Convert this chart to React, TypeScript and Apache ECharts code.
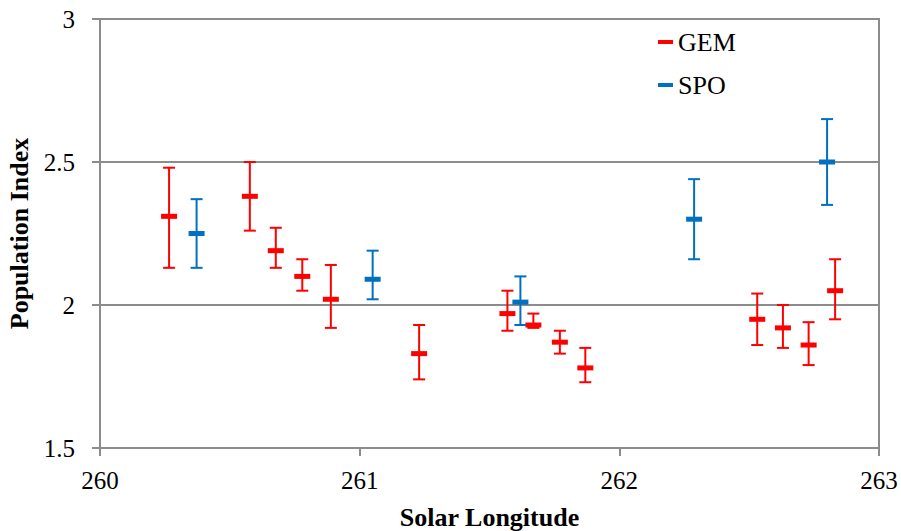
import React, { useEffect, useRef } from "react";
import * as echarts from "echarts";

const gemX = [260.266, 260.577, 260.677, 260.779, 260.889, 261.229, 261.569, 261.669, 261.771, 261.869, 262.531, 262.630, 262.729, 262.831];
const gemY = [2.31, 2.38, 2.19, 2.10, 2.02, 1.83, 1.97, 1.93, 1.87, 1.78, 1.95, 1.92, 1.86, 2.05];
const gemLow = [2.13, 2.26, 2.13, 2.05, 1.92, 1.74, 1.91, 1.92, 1.83, 1.73, 1.86, 1.85, 1.79, 1.95];
const gemHigh = [2.48, 2.50, 2.27, 2.16, 2.14, 1.93, 2.05, 1.97, 1.91, 1.85, 2.04, 2.00, 1.94, 2.16];

const spoX = [260.372, 261.05, 261.619, 262.288, 262.80];
const spoY = [2.25, 2.09, 2.01, 2.30, 2.50];
const spoLow = [2.13, 2.02, 1.93, 2.16, 2.35];
const spoHigh = [2.37, 2.19, 2.10, 2.44, 2.65];

const xTicks = [260, 261, 262, 263];
const yTicks = [1.5, 2, 2.5, 3];

const RED = "#ff0000";
const BLUE = "#0070c0";
const FONT = "Liberation Serif";

function makeRender(color: string) {
  return (params: any, api: any) => {
    const x = api.value(0);
    const c = api.value(1);
    const lo = api.value(2);
    const hi = api.value(3);
    const pc = api.coord([x, c]);
    const pl = api.coord([x, lo]);
    const ph = api.coord([x, hi]);
    const ls = { stroke: color, lineWidth: 2 };
    return {
      type: "group",
      children: [
        { type: "line", shape: { x1: pc[0], y1: ph[1], x2: pc[0], y2: pl[1] }, style: ls },
        { type: "line", shape: { x1: pc[0] - 6, y1: ph[1], x2: pc[0] + 6, y2: ph[1] }, style: ls },
        { type: "line", shape: { x1: pc[0] - 6, y1: pl[1], x2: pc[0] + 6, y2: pl[1] }, style: ls },
        { type: "rect", shape: { x: pc[0] - 8, y: pc[1] - 2.5, width: 16, height: 5 }, style: { fill: color } },
      ],
    };
  };
}

export default function App() {
  const ref = useRef<HTMLDivElement>(null);
  useEffect(() => {
    if (!ref.current) return;
    const chart = echarts.init(ref.current, null, { renderer: "svg" });
    const gemData = gemX.map((x, i) => [x, gemY[i], gemLow[i], gemHigh[i]]);
    const spoData = spoX.map((x, i) => [x, spoY[i], spoLow[i], spoHigh[i]]);
    const axisColor = "#8c8c8c";
    chart.setOption({
      animation: false,
      backgroundColor: "#ffffff",
      textStyle: { fontFamily: FONT },
      grid: {
        left: 100,
        right: 22,
        top: 19,
        bottom: 83,
        containLabel: false,
        outerBoundsMode: "none",
        show: true,
        borderColor: axisColor,
        borderWidth: 2,
      },
      legend: {
        orient: "vertical",
        left: 653,
        top: 24,
        itemWidth: 15,
        itemHeight: 4,
        itemGap: 17,
        data: [
          { name: "GEM", icon: "rect" },
          { name: "SPO", icon: "rect" },
        ],
        textStyle: { fontFamily: FONT, fontSize: 26, color: "#000" },
      },
      xAxis: {
        type: "value",
        min: xTicks[0],
        max: xTicks[xTicks.length - 1],
        interval: 1,
        name: "Solar Longitude",
        nameLocation: "middle",
        nameGap: 56,
        nameTextStyle: { fontFamily: FONT, fontSize: 26, fontWeight: "bold", color: "#000" },
        axisLine: { show: true, lineStyle: { color: axisColor, width: 2 } },
        axisTick: { show: true, length: 8, lineStyle: { color: axisColor, width: 2 } },
        splitLine: { show: false },
        axisLabel: { fontFamily: FONT, fontSize: 25, color: "#000", margin: 20 },
      },
      yAxis: {
        type: "value",
        min: yTicks[0],
        max: yTicks[yTicks.length - 1],
        interval: 0.5,
        name: "Population Index",
        nameLocation: "middle",
        nameGap: 67,
        nameTextStyle: { fontFamily: FONT, fontSize: 26, fontWeight: "bold", color: "#000" },
        axisLine: { show: true, lineStyle: { color: axisColor, width: 2 } },
        axisTick: { show: true, length: 8, lineStyle: { color: axisColor, width: 2 } },
        splitLine: { show: true, lineStyle: { color: axisColor, width: 2 } },
        axisLabel: { fontFamily: FONT, fontSize: 25, color: "#000", margin: 25 },
      },
      series: [
        {
          name: "GEM",
          type: "custom",
          itemStyle: { color: RED },
          renderItem: makeRender(RED),
          encode: { x: 0, y: 1 },
          data: gemData,
        },
        {
          name: "SPO",
          type: "custom",
          itemStyle: { color: BLUE },
          renderItem: makeRender(BLUE),
          encode: { x: 0, y: 1 },
          data: spoData,
        },
      ],
    });
    return () => chart.dispose();
  }, []);
  return <div ref={ref} style={{ width: 901, height: 531, position: "absolute", left: 0, top: 0 }} />;
}
